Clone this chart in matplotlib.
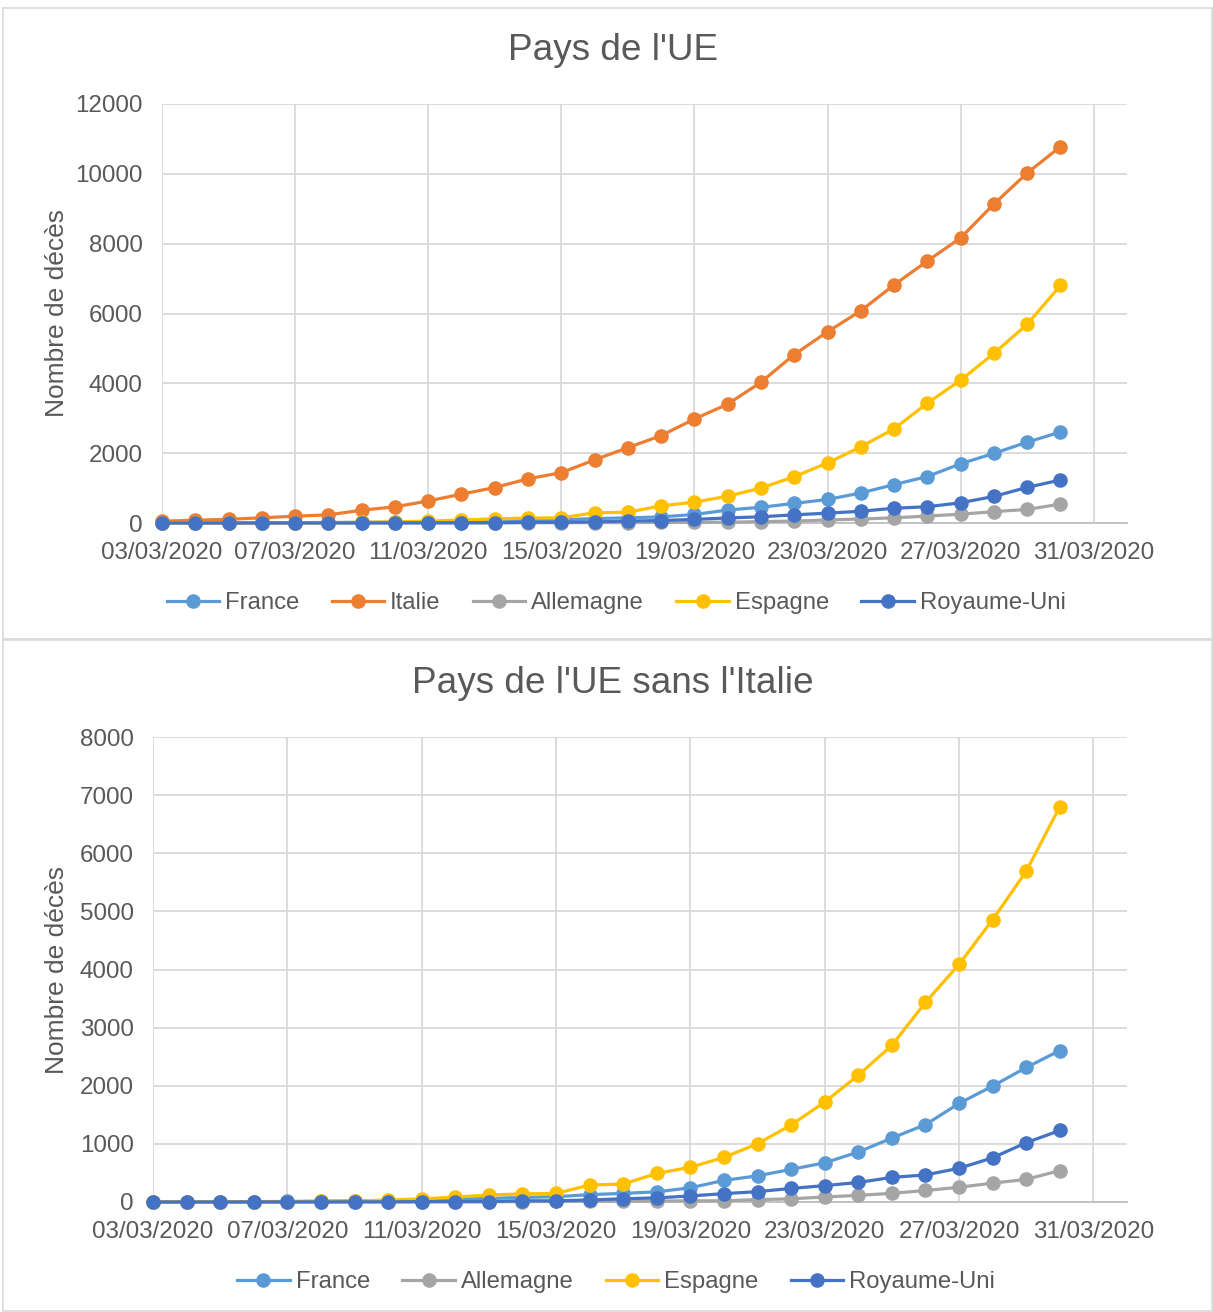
import pandas as pd
import matplotlib
matplotlib.use("Agg")
import matplotlib.pyplot as plt
import matplotlib.dates as mdates
from matplotlib.lines import Line2D

#---------------------------------
# Data (cumulative deaths, 03/03/2020 -> 30/03/2020)
#---------------------------------

dates = pd.date_range("2020-03-03", "2020-03-30", freq="D")

france = [3, 4, 4, 7, 9, 16, 19, 25, 33, 48, 61, 79, 91, 127, 148, 175, 244,
          372, 450, 562, 674, 860, 1100, 1331, 1696, 1995, 2314, 2606]
italie = [52, 79, 107, 148, 197, 233, 366, 463, 631, 827, 1016, 1266, 1441,
          1809, 2158, 2503, 2978, 3405, 4032, 4825, 5476, 6077, 6820, 7503,
          8165, 9134, 10023, 10779]
allemagne = [0, 0, 0, 0, 0, 0, 0, 2, 2, 3, 3, 7, 9, 11, 13, 17, 20, 22, 40,
             55, 86, 114, 149, 198, 253, 325, 389, 541]
espagne = [0, 1, 2, 3, 5, 10, 17, 35, 54, 84, 120, 140, 148, 292, 309, 491,
           598, 767, 1002, 1326, 1720, 2182, 2696, 3434, 4089, 4858, 5690, 6803]
royaume_uni = [0, 0, 1, 1, 2, 2, 3, 3, 6, 8, 8, 21, 21, 35, 55, 71, 104, 144,
               178, 234, 282, 336, 423, 466, 580, 761, 1021, 1231]

series_all = [
    ("France", france, "#5B9BD5"),
    ("Italie", italie, "#ED7D31"),
    ("Allemagne", allemagne, "#A5A5A5"),
    ("Espagne", espagne, "#FFC000"),
    ("Royaume-Uni", royaume_uni, "#4472C4"),
]
series_no_it = [s for s in series_all if s[0] != "Italie"]

TEXT = "#595959"
GRID = "#D9D9D9"
W, H = 1213, 1312

plt.rcParams["font.family"] = ["Liberation Sans", "DejaVu Sans"]

#---------------------------------
# Helpers
#---------------------------------

def fx(px):
    return px / W

def fy(py):
    return 1 - py / H

def draw_chart(fig, rect, series, ymax, ystep, title, title_y, ylab_y, leg_y):
    ax = fig.add_axes(rect)
    for name, vals, col in series:
        ax.plot(dates, vals, color=col, lw=2.3, marker="o", ms=10.5,
                mec=col, mew=0, label=name, clip_on=False, zorder=3)
    ax.set_ylim(0, ymax)
    ax.set_yticks(range(0, ymax + 1, ystep))
    ax.set_xlim(pd.Timestamp("2020-03-03"), pd.Timestamp("2020-04-01"))
    ax.xaxis.set_major_locator(mdates.DayLocator(bymonthday=[3, 7, 11, 15, 19, 23, 27, 31]))
    ax.xaxis.set_major_formatter(mdates.DateFormatter("%d/%m/%Y"))
    ax.grid(True, color=GRID, lw=1.3, zorder=0)
    for side in ("top", "right", "left"):
        ax.spines[side].set_visible(False)
    ax.spines["bottom"].set_color("#BFBFBF")
    ax.spines["bottom"].set_linewidth(1.3)
    ax.tick_params(length=0, labelsize=17.4, labelcolor=TEXT)
    ax.tick_params(axis="x", pad=14)
    ax.tick_params(axis="y", pad=14)
    fig.text(0.505, title_y, title, ha="center", va="center",
             fontsize=26.6, color=TEXT)
    fig.text(fx(57), ylab_y, "Nombre de décès", rotation=90, ha="center",
             va="center", fontsize=19, color=TEXT)
    handles = [Line2D([], [], color=c, lw=2.3, marker="o", ms=10.5, mew=0)
               for _, _, c in series]
    labels = [n for n, _, _ in series]
    leg = fig.legend(handles, labels, loc="center", bbox_to_anchor=(0.508, leg_y),
                     ncol=len(series), frameon=False, fontsize=17.2,
                     handlelength=2.2, handletextpad=0.25, columnspacing=1.35,
                     numpoints=1)
    for t in leg.get_texts():
        t.set_color(TEXT)
    return ax

#---------------------------------
# Figure
#---------------------------------

fig = plt.figure(figsize=(W / 100, H / 100), dpi=100)
fig.patch.set_facecolor("white")

# chart frames
for y0, y1 in [(8, 639), (640, 1311)]:
    fig.add_artist(plt.Rectangle((fx(3), fy(y1)), fx(1209), (y1 - y0) / H,
                                 fill=False, edgecolor=GRID, lw=1.2,
                                 transform=fig.transFigure))

draw_chart(fig, [fx(162), fy(523), fx(1127 - 162), (523 - 104) / H],
           series_all, 12000, 2000, "Pays de l'UE", fy(50), fy(313), fy(603))
draw_chart(fig, [fx(153), fy(1202), fx(1127 - 153), (1202 - 737) / H],
           series_no_it, 8000, 1000, "Pays de l'UE sans l'Italie", fy(683),
           fy(970), fy(1282))

fig.savefig("out.png", dpi=100)
